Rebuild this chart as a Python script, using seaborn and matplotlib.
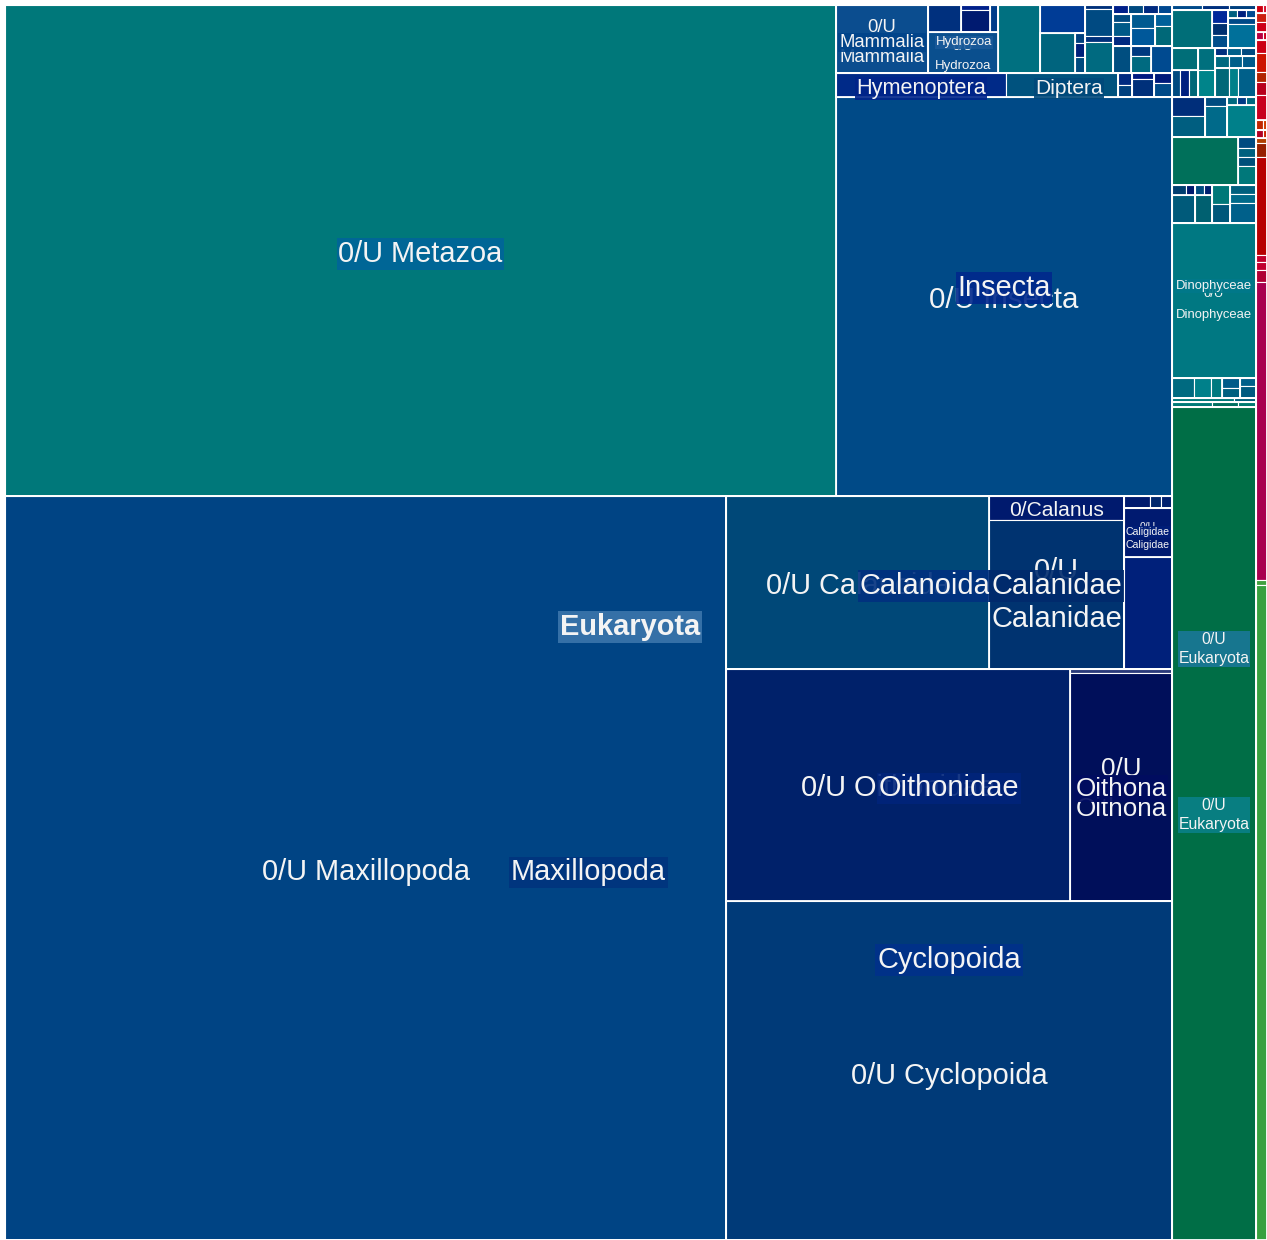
import matplotlib
matplotlib.use("Agg")
import matplotlib.pyplot as plt
from matplotlib.patches import Rectangle
import seaborn as sns

sns.set_theme(style="white")
plt.rcParams["font.family"] = ["Liberation Sans", "DejaVu Sans"]

ROOT = "Eukaryota"

# taxon, parent taxon, reads (None for ranks that only group others), tile colour
metazoa = [
    ("Metazoa", ROOT, None, None),
    ("Metazoa-upper", "Metazoa", None, None),
    ("0/U Metazoa", "Metazoa-upper", 408021, "#00787a"),
    ("Insecta", "Metazoa-upper", None, None),
]

insecta = [
    ("Insecta-minor", "Insecta", None, None),
    ("Mammalia", "Insecta-minor", None, None),
    ("0/U Mammalia", "Mammalia", 6256, "#0b4d8f"),
    ("Hydrozoa", "Insecta-minor", None, None),
    ("hy-x", "Hydrozoa", None, None),
    ("hy1", "hy-x", 891, "#00307e"),
    ("hy2", "hy-x", None, None),
    ("hy2a", "hy2", 145, "#00208a"),
    ("hy2b", "hy2", 638, "#001a70"),
    ("hy3", "hy-x", 216, "#003c8a"),
    ("0/U Hydrozoa", "Hydrozoa", 2870, "#0a4f8e"),
    ("Anthozoa", "Insecta-minor", 2856, "#007080"),
    ("Arachnida", "Insecta-minor", None, None),
    ("ar1", "Arachnida", 1260, "#003c96"),
    ("ar2", "Arachnida", None, None),
    ("ar2a", "ar2", 1400, "#00647e"),
    ("ar2b", "ar2", None, None),
    ("ar2b1", "ar2b", 100, "#00407e"),
    ("ar2b2", "ar2b", 140, "#00207a"),
    ("ar2b3", "ar2b", 160, "#004a7e"),
    ("Bivalvia", "Insecta-minor", None, None),
    ("bv1", "Bivalvia", 112, "#00307a"),
    ("bv2", "Bivalvia", 756, "#004a82"),
    ("bv3", "Bivalvia", 168, "#00307a"),
    ("bv4", "Bivalvia", 868, "#006a80"),
    ("misc", "Insecta-minor", None, None),
    ("misc1", "misc", None, None),
    ("misc1a", "misc1", 135, "#00208a"),
    ("misc1b", "misc1", 135, "#004a80"),
    ("misc1c", "misc1", 135, "#002a80"),
    ("misc1d", "misc1", 126, "#004890"),
    ("misc2", "misc", None, None),
    ("misc2a", "misc2", None, None),
    ("misc2a1", "misc2a", 144, "#004a80"),
    ("misc2a2", "misc2a", 252, "#005a88"),
    ("misc2a3", "misc2a", 180, "#002a80"),
    ("misc2b", "misc2", None, None),
    ("misc2b1", "misc2b", 336, "#005a90"),
    ("misc2b2", "misc2b", 432, "#00589a"),
    ("misc2c", "misc2", None, None),
    ("misc2c1", "misc2c", 204, "#00609a"),
    ("misc2c2", "misc2c", 340, "#006878"),
    ("misc3", "misc", None, None),
    ("misc3a", "misc3", 486, "#004e80"),
    ("misc3b", "misc3", None, None),
    ("misc3b1", "misc3b", 200, "#003a80"),
    ("misc3b2", "misc3b", 340, "#006a80"),
    ("misc3c", "misc3", 567, "#004a90"),
    ("Insecta-orders", "Insecta", None, None),
    ("Hymenoptera", "Insecta-orders", 4080, "#002a88"),
    ("Diptera", "Insecta-orders", 2688, "#00527e"),
    ("ins-rare", "Insecta-orders", None, None),
    ("ir1", "ins-rare", None, None),
    ("ir1a", "ir1", 168, "#002a80"),
    ("ir1b", "ir1", 168, "#00407e"),
    ("ir2", "ins-rare", None, None),
    ("ir2a", "ir2", 132, "#001a80"),
    ("ir2b", "ir2", 396, "#00307a"),
    ("ir3", "ins-rare", None, None),
    ("ir3a", "ir3", 180, "#001a7a"),
    ("ir3b", "ir3", 252, "#004a88"),
    ("0/U Insecta", "Insecta", 134064, "#004a87"),
]

maxillopoda = [
    ("Maxillopoda", "Metazoa", None, None),
    ("0/U Maxillopoda", "Maxillopoda", 536424, "#004484"),
    ("Copepoda", "Maxillopoda", None, None),
    ("Calanoida-row", "Copepoda", None, None),
    ("Calanoida", "Calanoida-row", None, None),
    ("0/U Calanoida", "Calanoida", 45499, "#004878"),
    ("Calanidae", "Calanoida", None, None),
    ("0/Calanus", "Calanidae", 3240, "#001a6e"),
    ("0/U Calanidae", "Calanidae", 20115, "#003370"),
    ("Siphonostomatoida", "Calanoida-row", None, None),
    ("sp-top", "Siphonostomatoida", None, None),
    ("sp1", "sp-top", 312, "#001a6e"),
    ("sp2", "sp-top", 132, "#00286e"),
    ("sp3", "sp-top", 132, "#00206e"),
    ("Caligidae", "Siphonostomatoida", None, None),
    ("0/U Caligidae", "Caligidae", 2352, "#001a70"),
    ("0/U Siphonostomatoida", "Siphonostomatoida", 5376, "#00207a"),
    ("Cyclopoida", "Copepoda", None, None),
    ("Oithonidae", "Cyclopoida", None, None),
    ("0/U Oithonidae", "Oithonidae", 79808, "#00216a"),
    ("Oithona", "Oithonidae", None, None),
    ("Oithona sp.", "Oithona", 408, "#2a3a7a"),
    ("0/U Oithona", "Oithona", 23256, "#000f5a"),
    ("0/U Cyclopoida", "Cyclopoida", 151194, "#003a78"),
]

protists = [
    ("Protista", ROOT, None, None),
    ("b0", "Protista", None, None),
    ("b0a", "b0", 150, "#004a8a"),
    ("b0b", "b0", 135, "#00307e"),
    ("b0c", "b0", 135, "#00407e"),
    ("b1", "Protista", None, None),
    ("b1a", "b1", 1520, "#006e78"),
    ("b1b", "b1", None, None),
    ("b1b1", "b1b", 208, "#00289a"),
    ("b1b2", "b1b", 192, "#003070"),
    ("b1b3", "b1b", 208, "#004d8a"),
    ("b1c", "b1", None, None),
    ("b1c-top", "b1c", None, None),
    ("b1c1", "b1c-top", 72, "#006080"),
    ("b1c2", "b1c-top", 72, "#00207e"),
    ("b1c3", "b1c-top", 80, "#004a90"),
    ("b1c4", "b1c", 168, "#004a88"),
    ("b1c5", "b1c", 672, "#00709a"),
    ("b2", "Protista", None, None),
    ("b2a", "b2", None, None),
    ("b2a1", "b2a", 572, "#006e78"),
    ("b2a-low", "b2a", None, None),
    ("b2a2", "b2a-low", 216, "#004a80"),
    ("b2a3", "b2a-low", 243, "#002080"),
    ("b2a4", "b2a-low", 243, "#006878"),
    ("b2b", "b2", None, None),
    ("b2b1", "b2b", 374, "#00707e"),
    ("b2b2", "b2b", 459, "#00848a"),
    ("b2c", "b2", None, None),
    ("b2c-1", "b2c", None, None),
    ("b2c1a", "b2c-1", 96, "#00307e"),
    ("b2c1b", "b2c-1", 112, "#00608a"),
    ("b2c1c", "b2c-1", 120, "#004a80"),
    ("b2c-2", "b2c", None, None),
    ("b2c2a", "b2c-2", 168, "#006a80"),
    ("b2c2b", "b2c-2", 156, "#00608a"),
    ("b2c2c", "b2c-2", 168, "#005a8a"),
    ("b2c-3", "b2c", None, None),
    ("b2c3a", "b2c-3", 406, "#006878"),
    ("b2c3b", "b2c-3", 261, "#00808a"),
    ("b2c3c", "b2c-3", 522, "#00608a"),
    ("b3", "Protista", None, None),
    ("b3a", "b3", None, None),
    ("b3a1", "b3a", 627, "#002e7a"),
    ("b3a2", "b3a", 693, "#005e80"),
    ("b3b", "b3", None, None),
    ("b3b1", "b3b", 198, "#004c80"),
    ("b3b2", "b3b", 682, "#006a8a"),
    ("b3c", "b3", None, None),
    ("b3c-top", "b3c", None, None),
    ("b3c1", "b3c-top", 80, "#006a80"),
    ("b3c2", "b3c-top", 72, "#003a86"),
    ("b3c3", "b3c-top", 80, "#006880"),
    ("b3c4", "b3c", 928, "#00808a"),
    ("b4", "Protista", None, None),
    ("b4a", "b4", 3168, "#00705a"),
    ("b4c", "b4", None, None),
    ("b4c1", "b4c", 198, "#004a80"),
    ("b4c2", "b4c", 162, "#00607e"),
    ("b4c3", "b4c", 162, "#00507a"),
    ("b4c4", "b4c", 342, "#00787a"),
    ("b5", "Protista", None, None),
    ("b5a", "b5", None, None),
    ("b5a-top", "b5a", None, None),
    ("b5a1", "b5a-top", 140, "#003e70"),
    ("b5a2", "b5a-top", 90, "#001a6e"),
    ("b5a3", "b5a", 644, "#005a7a"),
    ("b5b", "b5", None, None),
    ("b5b-top", "b5b", None, None),
    ("b5b1", "b5b-top", 90, "#004a80"),
    ("b5b2", "b5b-top", 80, "#002070"),
    ("b5b3", "b5b", 476, "#006070"),
    ("b5c", "b5", None, None),
    ("b5c1", "b5c", 342, "#007878"),
    ("b5c2", "b5c", 342, "#00587a"),
    ("b5d", "b5", None, None),
    ("b5d1", "b5d", 234, "#00607e"),
    ("b5d2", "b5d", 234, "#006a8a"),
    ("b5d3", "b5d", 520, "#00608a"),
    ("Dinophyceae", "Protista", None, None),
    ("0/U Dinophyceae", "Dinophyceae", 13020, "#007882"),
    ("b6", "Protista", None, None),
    ("b6a", "b6", 440, "#006a80"),
    ("b6b", "b6", 340, "#00808a"),
    ("b6c", "b6", 220, "#007a80"),
    ("b6d", "b6", None, None),
    ("b6d1", "b6d", 180, "#005a88"),
    ("b6d2", "b6d", 180, "#006080"),
    ("b6e", "b6", None, None),
    ("b6e1", "b6e", 128, "#00608a"),
    ("b6e2", "b6e", 192, "#005a80"),
    ("b7", "Protista", None, None),
    ("b7a", "b7", None, None),
    ("b7a1", "b7a", 248, "#00787a"),
    ("b7a2", "b7a", 88, "#005e7a"),
    ("b7b", "b7", None, None),
    ("b7b1", "b7b", 200, "#007a78"),
    ("b7b2", "b7b", 130, "#007060"),
    ("b7b3", "b7b", 90, "#007a70"),
    ("0/U Eukaryota", "Protista", 69972, "#006e46"),
]

others = [
    ("Other", ROOT, None, None),
    ("c1", "Other", None, None),
    ("c1a", "c1", 56, "#cc0010"),
    ("c1b", "c1", 32, "#d81030"),
    ("c2", "Other", 99, "#cc2010"),
    ("c3", "Other", 110, "#cc0018"),
    ("c4", "Other", None, None),
    ("c4a", "c4", 56, "#b80040"),
    ("c4b", "c4", 32, "#cc0020"),
    ("c5", "Other", 143, "#cc0014"),
    ("c6", "Other", 209, "#cc1400"),
    ("c7", "Other", 110, "#b02400"),
    ("c8", "Other", 143, "#b8001c"),
    ("c9", "Other", 275, "#c8001e"),
    ("c10", "Other", None, None),
    ("c10a", "c10", 70, "#c02800"),
    ("c10b", "c10", 40, "#d03c00"),
    ("c11", "Other", None, None),
    ("c11a", "c11", 56, "#b00022"),
    ("c11b", "c11", 32, "#cc2600"),
    ("c12", "Other", 55, "#b04000"),
    ("c13", "Other", 154, "#962000"),
    ("c14", "Other", 1078, "#b60000"),
    ("c15", "Other", 77, "#c0002c"),
    ("c16", "Other", 88, "#c00030"),
    ("c17", "Other", 132, "#b00034"),
    ("c18", "Other", 3278, "#a8004f"),
    ("c19", "Other", 55, "#40a040"),
    ("c20", "Other", 7205, "#38a040"),
]

# ranks whose children are placed side by side (all others are stacked)
ACROSS = {
    ROOT, "Metazoa-upper", "Insecta-minor", "hy-x", "ar2", "misc1", "misc2",
    "misc3", "Insecta-orders", "ins-rare", "Maxillopoda", "Calanoida-row",
    "Calanoida", "sp-top", "Oithonidae", "b0", "b1", "b1c-top", "b2",
    "b2a-low", "b2c-1", "b2c-2", "b2c-3", "b3", "b3c-top", "b4", "b5",
    "b5a-top", "b5b-top", "b6", "b7a", "b7b", "c1", "c4", "c10", "c11",
}

records = metazoa + insecta + maxillopoda + protists + others
children = {ROOT: []}
reads = {}
colour = {}
for taxon, parent, n, col in records:
    children.setdefault(taxon, [])
    children.setdefault(parent, []).append(taxon)
    reads[taxon] = n
    colour[taxon] = col


def total(node):
    if reads.get(node) is not None:
        return reads[node]
    s = sum(total(k) for k in children[node])
    reads[node] = s
    return s


total(ROOT)

rects = {}


def layout(node, x0, y0, x1, y1):
    rects[node] = (x0, y0, x1, y1)
    kids = children.get(node, [])
    if not kids:
        return
    s = sum(reads[k] for k in kids)
    pos = x0 if node in ACROSS else y0
    for k in kids:
        if node in ACROSS:
            w = (x1 - x0) * reads[k] / s
            layout(k, pos, y0, pos + w, y1)
        else:
            w = (y1 - y0) * reads[k] / s
            layout(k, x0, pos, x1, pos + w)
        pos += w


W, H = 1267, 1240
layout(ROOT, 5, 5, W, H)

fig = plt.figure(figsize=(W / 100, H / 100), dpi=100)
ax = fig.add_axes([0, 0, 1, 1])
ax.set_xlim(0, W)
ax.set_ylim(H, 0)
ax.axis("off")

# tiles
for node, (x0, y0, x1, y1) in rects.items():
    if children.get(node):
        continue
    ax.add_patch(Rectangle((x0, y0), x1 - x0, y1 - y0, facecolor=colour[node],
                           edgecolor="white", linewidth=0.8, zorder=1))
# rank outlines
for node, (x0, y0, x1, y1) in rects.items():
    if children.get(node) and node != ROOT:
        ax.add_patch(Rectangle((x0, y0), x1 - x0, y1 - y0, facecolor="none",
                               edgecolor="white", linewidth=1.3, zorder=2))

PX = 0.72  # points per pixel at 100 dpi
LIFT = 2.5  # baseline correction for centred text

# text, anchored taxon, dx, dy, size (px), box colour, bold
leaf_labels = [
    ("0/U Metazoa", "0/U Metazoa", 0, 1, 29, "#00659a", False),
    ("0/U Insecta", "0/U Insecta", 0, 1, 29.5, None, False),
    ("0/U Maxillopoda", "0/U Maxillopoda", 0, 2, 29, None, False),
    ("0/U Calanoida", "0/U Calanoida", 0, 1, 29, None, False),
    ("0/Calanus", "0/Calanus", 0, 0, 21, None, False),
    ("0/U", "0/U Calanidae", 0, -26, 29, None, False),
    ("Calanidae", "0/U Calanidae", 0, 22, 29, None, False),
    ("0/U Oithonidae", "0/U Oithonidae", 0, 0, 29, None, False),
    ("0/U", "0/U Oithona", 0, -20, 26, None, False),
    ("Oithona", "0/U Oithona", 0, 20, 26, None, False),
    ("0/U Cyclopoida", "0/U Cyclopoida", 0, 3, 29, None, False),
    ("0/U", "0/U Mammalia", 0, -14, 18.5, None, False),
    ("Mammalia", "0/U Mammalia", 0, 16, 18.5, None, False),
    ("0/U", "0/U Hydrozoa", 0, -8, 13.3, None, False),
    ("Hydrozoa", "0/U Hydrozoa", 0, 11, 13.3, None, False),
    ("0/U", "0/U Caligidae", 0, -8, 10.5, None, False),
    ("Caligidae", "0/U Caligidae", 0, 10, 10.5, None, False),
    ("0/U", "0/U Dinophyceae", 0, -9, 13, None, False),
    ("Dinophyceae", "0/U Dinophyceae", 0, 12, 13, None, False),
    ("0/U\nEukaryota", "0/U Eukaryota", 0, -11, 15.8, "#0a8088", False),
    ("0/U\nEukaryota", "0/U Eukaryota", 0, -177, 15.8, "#1a7898", False),
]
rank_labels = [
    ("Mammalia", "Mammalia", 0, 1, 18.5, "#00448a", False),
    ("Hydrozoa", "Hydrozoa", 1, 1, 13.3, "#1a5a9a", False),
    ("Hymenoptera", "Hymenoptera", 0, 1, 21.7, "#00248a", False),
    ("Diptera", "Diptera", 7, 1, 21, "#00487a", False),
    ("Insecta", "Insecta", 0, 35, 29, "#00288c", False),
    ("Caligidae", "Caligidae", 0, -3, 10.5, "#001e78", False),
    ("Dinophyceae", "Dinophyceae", 0, -17, 13, "#00788a", False),
    ("Maxillopoda", "Maxillopoda", 0, 2, 29, "#00347e", False),
    ("Calanoida", "Calanoida", 0, 1, 29, "#00307f", False),
    ("Calanidae", "Calanidae", 0, 1, 29, "#002a6c", False),
    ("Oithonidae", "Oithonidae", 0, 1, 29, "#00247a", False),
    ("Oithona", "Oithona", 0, 1, 26, "#000c60", False),
    ("Cyclopoida", "Cyclopoida", 0, 3, 29, "#00308a", False),
    ("Eukaryota", ROOT, -6, 2, 29, "#3b75ab", True),
]

for z, group in ((3, leaf_labels), (4, rank_labels)):
    for i, (text, node, dx, dy, px, box, bold) in enumerate(group):
        x0, y0, x1, y1 = rects[node]
        kw = {}
        if box:
            kw["bbox"] = dict(boxstyle="square,pad=0.06", facecolor=box,
                              edgecolor="none", alpha=0.9)
        ax.text((x0 + x1) / 2 + dx, (y0 + y1) / 2 + dy + LIFT, text,
                ha="center", va="center", fontsize=px * PX, color="#f4f4f4",
                fontweight="bold" if bold else "normal", linespacing=1.4,
                zorder=z + i * 0.001, **kw)

fig.savefig("out.png", dpi=100, facecolor="white")
